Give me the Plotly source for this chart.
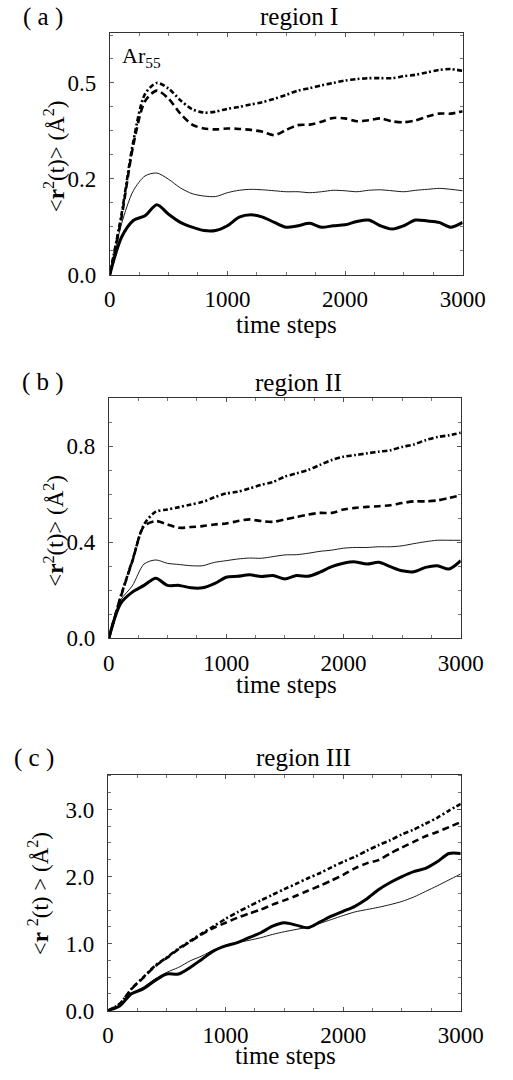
import plotly.graph_objects as go

W, H = 513, 1080
steps = list(range(0, 3001, 100))

# ---- panel (a): region I (values in axis units; label "0.5" sits at 0.4) ----
a_dot = [0, 0.126, 0.278, 0.377, 0.400, 0.388, 0.364, 0.345, 0.338, 0.340, 0.346,
         0.350, 0.355, 0.360, 0.367, 0.375, 0.384, 0.389, 0.395, 0.400, 0.405,
         0.408, 0.410, 0.410, 0.410, 0.414, 0.417, 0.422, 0.427, 0.429, 0.425]
a_dash = [0, 0.120, 0.270, 0.362, 0.384, 0.367, 0.336, 0.313, 0.305, 0.303, 0.305,
          0.304, 0.302, 0.298, 0.291, 0.302, 0.312, 0.313, 0.319, 0.327, 0.326,
          0.320, 0.322, 0.326, 0.320, 0.318, 0.322, 0.330, 0.336, 0.336, 0.341]
a_thin = [0, 0.106, 0.175, 0.206, 0.212, 0.199, 0.181, 0.169, 0.164, 0.163, 0.171,
          0.176, 0.178, 0.177, 0.175, 0.173, 0.173, 0.171, 0.173, 0.176, 0.175,
          0.173, 0.176, 0.177, 0.175, 0.173, 0.176, 0.178, 0.180, 0.178, 0.175]
a_thick = [0, 0.078, 0.113, 0.123, 0.146, 0.126, 0.109, 0.099, 0.092, 0.092, 0.102,
           0.120, 0.125, 0.120, 0.109, 0.099, 0.102, 0.107, 0.099, 0.102, 0.104,
           0.111, 0.114, 0.102, 0.095, 0.102, 0.114, 0.112, 0.109, 0.099, 0.109]

# ---- panel (b): region II ----
b_dot = [0, 0.172, 0.323, 0.474, 0.527, 0.536, 0.546, 0.557, 0.568, 0.587, 0.603,
         0.610, 0.624, 0.639, 0.651, 0.673, 0.687, 0.701, 0.722, 0.742, 0.756,
         0.763, 0.770, 0.777, 0.783, 0.797, 0.807, 0.825, 0.838, 0.845, 0.856]
b_dash = [0, 0.170, 0.320, 0.467, 0.488, 0.474, 0.460, 0.463, 0.467, 0.474, 0.478,
          0.488, 0.495, 0.488, 0.485, 0.495, 0.505, 0.515, 0.522, 0.522, 0.536,
          0.543, 0.547, 0.550, 0.554, 0.563, 0.570, 0.570, 0.574, 0.584, 0.595]
b_thin = [0, 0.158, 0.218, 0.309, 0.326, 0.312, 0.307, 0.302, 0.302, 0.316, 0.323,
          0.330, 0.334, 0.333, 0.340, 0.347, 0.348, 0.354, 0.362, 0.367, 0.375,
          0.378, 0.378, 0.381, 0.381, 0.385, 0.394, 0.402, 0.408, 0.408, 0.408]
b_thick = [0, 0.144, 0.192, 0.220, 0.250, 0.220, 0.220, 0.210, 0.210, 0.227, 0.254,
           0.258, 0.264, 0.257, 0.261, 0.247, 0.261, 0.258, 0.275, 0.298, 0.312,
           0.318, 0.309, 0.316, 0.298, 0.281, 0.277, 0.295, 0.302, 0.288, 0.323]

# ---- panel (c): region III ----
c_dot = [0, 0.100, 0.325, 0.497, 0.669, 0.793, 0.926, 1.039, 1.152, 1.260, 1.369,
         1.467, 1.556, 1.644, 1.728, 1.812, 1.891, 1.975, 2.049, 2.137, 2.220,
         2.294, 2.383, 2.467, 2.541, 2.629, 2.699, 2.787, 2.876, 2.984, 3.083]
c_dash = [0, 0.100, 0.320, 0.490, 0.660, 0.785, 0.915, 1.030, 1.140, 1.236, 1.310,
          1.384, 1.448, 1.507, 1.581, 1.644, 1.713, 1.787, 1.861, 1.940, 2.024,
          2.122, 2.196, 2.245, 2.344, 2.433, 2.516, 2.600, 2.664, 2.737, 2.811]
c_thin = [0, 0.080, 0.251, 0.350, 0.473, 0.571, 0.645, 0.743, 0.817, 0.906, 0.975,
          1.015, 1.049, 1.088, 1.137, 1.177, 1.211, 1.245, 1.300, 1.359, 1.418,
          1.472, 1.507, 1.541, 1.581, 1.629, 1.694, 1.777, 1.861, 1.950, 2.038]
c_thick = [0, 0.070, 0.251, 0.325, 0.448, 0.546, 0.546, 0.645, 0.768, 0.891, 0.965,
           1.015, 1.088, 1.162, 1.260, 1.310, 1.276, 1.236, 1.320, 1.408, 1.482,
           1.556, 1.664, 1.802, 1.910, 1.999, 2.073, 2.122, 2.220, 2.344, 2.344]

x_ticks = [0, 1000, 2000, 3000]
a_tickvals = [0, 0.2, 0.4]
a_ticktext = ["0.0", "0.2", "0.5"]
b_tickvals = [0, 0.4, 0.8]
b_ticktext = ["0.0", "0.4", "0.8"]
c_tickvals = [0, 1, 2, 3]
c_ticktext = ["0.0", "1.0", "2.0", "3.0"]

FONT = "Liberation Serif"
styles = [
    dict(width=2.6, dash="5px,2.5px,2px,2.5px"),   # dotted / dash-dot
    dict(width=2.6, dash="7px,4px"),               # dashed
    dict(width=0.9, dash="solid"),                 # thin solid
    dict(width=3.0, dash="solid"),                 # thick solid
]

fig = go.Figure()
panels = [
    ("x", "y", [a_dot, a_dash, a_thin, a_thick]),
    ("x2", "y2", [b_dot, b_dash, b_thin, b_thick]),
    ("x3", "y3", [c_dot, c_dash, c_thin, c_thick]),
]
for xa, ya, series in panels:
    for s, st in zip(series, styles):
        fig.add_trace(go.Scatter(x=steps, y=s, xaxis=xa, yaxis=ya, mode="lines",
                                 line=dict(color="black", width=st["width"], dash=st["dash"],
                                           shape="spline", smoothing=0.8),
                                 showlegend=False, hoverinfo="skip"))

def px2x(p):
    return p / W

def px2y(p):
    return 1 - p / H

def xaxis_cfg(l, r, anchor):
    return dict(domain=[px2x(l), px2x(r)], range=[0, 3000], anchor=anchor,
                tickvals=x_ticks, ticktext=[str(v) for v in x_ticks],
                showline=True, linecolor="#333", linewidth=1, mirror="ticks",
                ticks="inside", ticklen=4, tickcolor="#555",
                minor=dict(ticks="inside", dtick=250, ticklen=3, tickcolor="#777"),
                showgrid=False, zeroline=False, ticklabelstandoff=4,
                tickfont=dict(family=FONT, size=23, color="black"))

def yaxis_cfg(b, t, anchor, rng, tv, tt, mdt):
    return dict(domain=[px2y(b), px2y(t)], range=rng, anchor=anchor,
                tickvals=tv, ticktext=tt,
                showline=True, linecolor="#333", linewidth=1, mirror="ticks",
                ticks="inside", ticklen=4, tickcolor="#555",
                minor=dict(ticks="inside", dtick=mdt, ticklen=3, tickcolor="#777"),
                showgrid=False, zeroline=False, ticklabelstandoff=8,
                tickfont=dict(family=FONT, size=23, color="black"))

fig.update_layout(
    width=W, height=H, margin=dict(l=0, r=0, t=0, b=0),
    paper_bgcolor="white", plot_bgcolor="white",
    xaxis=xaxis_cfg(110, 484, "y"),
    yaxis=yaxis_cfg(278, 33, "x", [0, 0.505], a_tickvals, a_ticktext, 0.05),
    xaxis2=xaxis_cfg(109, 482, "y2"),
    yaxis2=yaxis_cfg(646, 403, "x2", [0, 1.0], b_tickvals, b_ticktext, 0.1),
    xaxis3=xaxis_cfg(108, 482, "y3"),
    yaxis3=yaxis_cfg(1023, 784, "x3", [0, 3.52], c_tickvals, c_ticktext, 0.25),
)

def ann(text, x, y, size=23, angle=0, xanchor="center"):
    fig.add_annotation(text=text, x=px2x(x), y=px2y(y), xref="paper", yref="paper",
                       showarrow=False, textangle=angle, xanchor=xanchor, yanchor="middle",
                       font=dict(family=FONT, size=size, color="black"))

ytitle = "&lt;<b>r</b><sup>2</sup>(t)&gt; (Å<sup>2</sup>)"
ytitle_c = "&lt;<b>r</b> <sup>2</sup>(t) &gt; (Å<sup>2</sup>)"

ann("( a )", 39, 17, size=25)
ann("region I", 311, 17, size=25)
ann("time steps", 297, 328, size=25)
ann(ytitle, 51, 158, size=23, angle=-90)
ann("Ar<sub>55</sub>", 121, 58, size=22, xanchor="left")

ann("( b )", 39, 387, size=25)
ann("region II", 310, 387, size=25)
ann("time steps", 297, 693, size=25)
ann(ytitle, 51, 537, size=23, angle=-90)

ann("( c )", 30, 767, size=25)
ann("region III", 315, 767, size=25)
ann("time steps", 296, 1068, size=25)
ann(ytitle_c, 34, 905, size=23, angle=-90)

fig.write_html("out.html")
